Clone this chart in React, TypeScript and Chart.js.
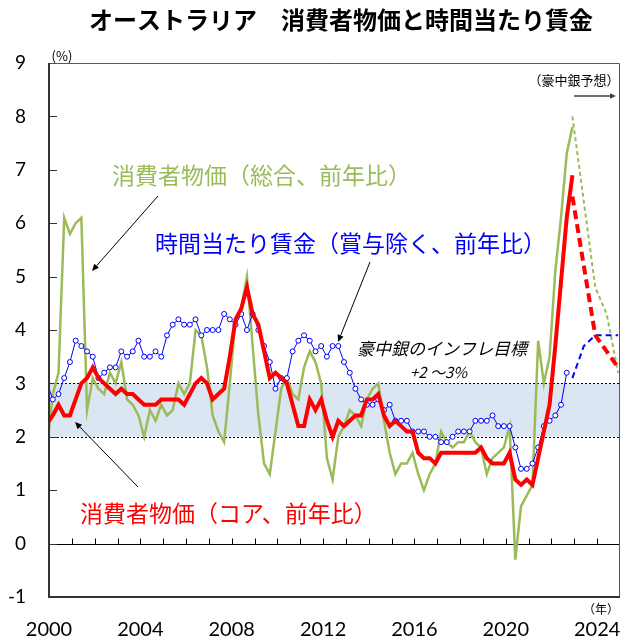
import { useEffect, useRef } from "react";
import { Chart, registerables } from "chart.js";
Chart.register(...registerables);

// Quarterly observations, first point = Dec 1999, then Mar/Jun/Sep/Dec each year
const firstQuarter = "1999-12";

// 消費者物価（総合、前年比）
const cpiHeadline = [
  1.8,
  2.8, 3.2, 6.1, 5.8,
  6.0, 6.1, 2.5, 3.1,
  2.9, 2.8, 3.2, 3.0,
  3.4, 2.7, 2.6, 2.4,
  2.0, 2.5, 2.3, 2.6,
  2.4, 2.5, 3.0, 2.8,
  3.0, 4.0, 3.9, 3.3,
  2.4, 2.1, 1.9, 3.0,
  4.2, 4.4, 5.0, 3.7,
  2.4, 1.5, 1.3, 2.1,
  2.9, 3.1, 2.8, 2.7,
  3.3, 3.6, 3.4, 3.0,
  1.6, 1.2, 2.0, 2.2,
  2.5, 2.4, 2.2, 2.7,
  2.9, 3.0, 2.3, 1.7,
  1.3, 1.5, 1.5, 1.7,
  1.3, 1.0, 1.3, 1.5,
  2.1, 1.9, 1.8, 1.9,
  1.9, 2.1, 1.9, 1.8,
  1.3, 1.6, 1.7, 1.8,
  2.2, -0.3, 0.7, 0.9,
  1.1, 3.8, 3.0, 3.5,
  5.1, 6.1, 7.3, 7.8,
];

// 消費者物価（コア、前年比）
const cpiCore = [
  2.25,
  2.4, 2.6, 2.4, 2.4,
  2.7, 3.0, 3.1, 3.3,
  3.1, 3.0, 2.9, 2.8,
  2.9, 2.8, 2.8, 2.7,
  2.6, 2.6, 2.6, 2.7,
  2.7, 2.7, 2.7, 2.6,
  2.8, 3.0, 3.1, 3.0,
  2.7, 2.8, 2.9, 3.5,
  4.2, 4.4, 4.8, 4.3,
  4.1, 3.6, 3.1, 3.2,
  3.1, 3.0, 2.6, 2.2,
  2.2, 2.7, 2.5, 2.7,
  2.3, 2.0, 2.3, 2.2,
  2.3, 2.4, 2.4, 2.7,
  2.7, 2.8, 2.4, 2.2,
  2.3, 2.2, 2.1, 2.1,
  1.7, 1.6, 1.6, 1.5,
  1.7, 1.7, 1.7, 1.7,
  1.7, 1.7, 1.7, 1.8,
  1.6, 1.5, 1.5, 1.5,
  1.7, 1.2, 1.1, 1.2,
  1.1, 1.6, 2.1, 2.6,
  3.7, 4.9, 6.1, 6.9,
];

// 時間当たり賃金（賞与除く、前年比）
const wages = [
  3.0,
  2.7, 2.8, 3.1, 3.4,
  3.8, 3.7, 3.6, 3.5,
  3.1, 3.2, 3.3, 3.3,
  3.6, 3.5, 3.6, 3.8,
  3.5, 3.5, 3.6, 3.5,
  3.9, 4.1, 4.2, 4.1,
  4.1, 4.2, 3.9, 4.0,
  4.0, 4.0, 4.3, 4.2,
  4.1, 4.3, 4.0, 4.3,
  4.0, 3.7, 3.4, 2.9,
  3.1, 3.1, 3.6, 3.8,
  3.9, 3.8, 3.6, 3.7,
  3.5, 3.7, 3.7, 3.4,
  3.2, 2.9, 2.7, 2.6,
  2.6, 2.7, 2.5, 2.6,
  2.3, 2.3, 2.3, 2.1,
  2.1, 2.1, 2.0, 2.0,
  1.9, 1.9, 2.0, 2.1,
  2.1, 2.1, 2.3, 2.3,
  2.3, 2.4, 2.2, 2.2,
  2.2, 1.8, 1.4, 1.4,
  1.5, 1.8, 2.2, 2.3,
  2.4, 2.6, 3.2,
];

// 豪中銀予想
const forecastDates = ["2022-12", "2023-06", "2023-12", "2024-06", "2024-12"];
const cpiHeadlineForecast = [8.0, 6.4, 4.8, 4.3, 3.2];
const cpiCoreForecast = [6.5, 5.2, 3.9, 3.6, 3.3];
const wagesForecast = [3.1, 3.7, 3.9, 3.9, 3.9];

const xTickYears = [2000, 2004, 2008, 2012, 2016, 2020, 2024];
const yTickValues = [-1, 0, 1, 2, 3, 4, 5, 6, 7, 8, 9];
const targetBand = [2, 3];

const GREEN = "#9BBB59";
const RED = "#FF0000";
const BLUE = "#0000FF";
const JP = '"Noto Sans CJK JP", "Noto Sans", sans-serif';
const NUM = 'Lato, "Liberation Sans", sans-serif';

function dateToX(d: string): number {
  const [y, m] = d.split("-").map(Number);
  return y + (m - 1) / 12;
}
function quarterDates(start: string, n: number): string[] {
  const [y0, m0] = start.split("-").map(Number);
  const out: string[] = [];
  for (let i = 0; i < n; i++) {
    const t = y0 * 12 + (m0 - 1) + 3 * i;
    out.push(`${Math.floor(t / 12)}-${(t % 12) + 1}`);
  }
  return out;
}
function toPoints(dates: string[], vals: number[]) {
  return vals.map((v, i) => ({ x: dateToX(dates[i]), y: v }));
}

function arrow(ctx: CanvasRenderingContext2D, x1: number, y1: number, x2: number, y2: number, color = "#000", w = 1, head = 7) {
  ctx.save();
  ctx.strokeStyle = color;
  ctx.fillStyle = color;
  ctx.lineWidth = w;
  const ang = Math.atan2(y2 - y1, x2 - x1);
  const bx = x2 - head * Math.cos(ang);
  const by = y2 - head * Math.sin(ang);
  ctx.beginPath();
  ctx.moveTo(x1, y1);
  ctx.lineTo(bx, by);
  ctx.stroke();
  ctx.beginPath();
  ctx.moveTo(x2, y2);
  ctx.lineTo(bx + (head * 0.45) * Math.sin(ang), by - (head * 0.45) * Math.cos(ang));
  ctx.lineTo(bx - (head * 0.45) * Math.sin(ang), by + (head * 0.45) * Math.cos(ang));
  ctx.closePath();
  ctx.fill();
  ctx.restore();
}

const decorPlugin = {
  id: "decor",
  beforeDatasetsDraw(chart: any) {
    const { ctx, chartArea: a, scales } = chart;
    const x = scales.x, y = scales.y;
    ctx.save();
    const yLo = y.getPixelForValue(targetBand[0]);
    const yHi = y.getPixelForValue(targetBand[1]);
    ctx.fillStyle = "#DCE6F2";
    ctx.fillRect(a.left, yHi, a.right - a.left, yLo - yHi);
    ctx.strokeStyle = "#000";
    ctx.lineWidth = 1;
    ctx.setLineDash([2, 2]);
    for (const v of targetBand) {
      const py = Math.round(y.getPixelForValue(v)) + 0.5;
      ctx.beginPath();
      ctx.moveTo(a.left, py);
      ctx.lineTo(a.right, py);
      ctx.stroke();
    }
    ctx.setLineDash([]);
    const y0 = Math.round(y.getPixelForValue(0)) + 0.5;
    ctx.strokeStyle = "#000";
    ctx.beginPath();
    ctx.moveTo(a.left, y0);
    ctx.lineTo(a.right, y0);
    ctx.stroke();
    // year ticks on zero line
    for (let yr = 2001; yr <= 2024; yr++) {
      const px = Math.round(x.getPixelForValue(yr)) + 0.5;
      ctx.beginPath();
      ctx.moveTo(px, y0);
      ctx.lineTo(px, y0 - 6);
      ctx.stroke();
    }
    // y ticks inside
    ctx.strokeStyle = "#333";
    for (const v of yTickValues) {
      const py = Math.round(y.getPixelForValue(v)) + 0.5;
      ctx.beginPath();
      ctx.moveTo(a.left, py);
      ctx.lineTo(a.left + 8, py);
      ctx.stroke();
    }
    ctx.restore();
  },
  afterDraw(chart: any) {
    const { ctx, chartArea: a } = chart;
    ctx.save();
    // frame
    ctx.strokeStyle = "#595959";
    ctx.lineWidth = 1;
    ctx.beginPath();
    ctx.moveTo(a.left, a.top + 0.5);
    ctx.lineTo(a.right - 0.5, a.top + 0.5);
    ctx.lineTo(a.right - 0.5, a.bottom);
    ctx.stroke();
    ctx.strokeStyle = "#333";
    ctx.lineWidth = 2;
    ctx.beginPath();
    ctx.moveTo(a.left, a.top);
    ctx.lineTo(a.left, a.bottom);
    ctx.lineTo(a.right, a.bottom);
    ctx.stroke();

    // title
    ctx.fillStyle = "#000";
    ctx.textBaseline = "middle";
    ctx.textAlign = "center";
    ctx.font = `bold 24px ${JP}`;
    ctx.fillText("オーストラリア　消費者物価と時間当たり賃金", 341, 20);

    ctx.font = `13px ${JP}`;
    ctx.fillText("(%)", 62, 56);
    ctx.font = `12px ${JP}`;
    ctx.fillText("（年）", 601, 609);
    ctx.font = `13px ${JP}`;
    ctx.fillText("（豪中銀予想）", 574, 80);
    arrow(ctx, 574, 96, 616, 96, "#404040", 1.5, 6);

    ctx.textAlign = "left";
    ctx.font = `23px ${JP}`;
    ctx.fillStyle = GREEN;
    ctx.fillText("消費者物価（総合、前年比）", 112, 175);
    ctx.fillStyle = BLUE;
    ctx.fillText("時間当たり賃金（賞与除く、前年比）", 155, 243);
    ctx.fillStyle = RED;
    ctx.fillText("消費者物価（コア、前年比）", 80, 513);

    ctx.fillStyle = "#000";
    ctx.font = `italic 17px ${JP}`;
    ctx.fillText("豪中銀のインフレ目標", 357, 349);
    ctx.font = `italic 15px ${JP}`;
    ctx.fillText("+2 〜3%", 410, 372);

    arrow(ctx, 158, 196, 92, 271);
    arrow(ctx, 370, 262, 338, 342);
    arrow(ctx, 138, 487, 75, 422);
    ctx.restore();
  },
};

export default function App() {
  const ref = useRef<HTMLCanvasElement | null>(null);
  useEffect(() => {
    if (!ref.current) return;
    const headDates = quarterDates(firstQuarter, cpiHeadline.length);
    const coreDates = quarterDates(firstQuarter, cpiCore.length);
    const wageDates = quarterDates(firstQuarter, wages.length);
    const chart = new Chart(ref.current, {
      type: "line",
      data: {
        datasets: [
          {
            label: "core",
            data: toPoints(coreDates, cpiCore),
            borderColor: RED,
            borderWidth: 4,
            pointRadius: 0,
            order: 1,
          },
          {
            label: "core forecast",
            data: toPoints(forecastDates, cpiCoreForecast),
            borderColor: RED,
            borderWidth: 4,
            borderDash: [9, 5],
            pointRadius: 0,
            order: 1,
          },
          {
            label: "wages",
            data: toPoints(wageDates, wages),
            borderColor: BLUE,
            borderWidth: 1,
            pointRadius: (c: any) => (c.raw && c.raw.x < 2000 ? 0 : 2.5),
            pointBackgroundColor: "#fff",
            pointBorderColor: BLUE,
            pointBorderWidth: 1,
            order: 2,
          },
          {
            label: "wages forecast",
            data: toPoints(forecastDates, wagesForecast),
            borderColor: BLUE,
            borderWidth: 2,
            borderDash: [6, 4],
            pointRadius: 0,
            order: 2,
          },
          {
            label: "headline",
            data: toPoints(headDates, cpiHeadline),
            borderColor: GREEN,
            borderWidth: 2.5,
            pointRadius: 0,
            order: 3,
          },
          {
            label: "headline forecast",
            data: toPoints(forecastDates, cpiHeadlineForecast),
            borderColor: GREEN,
            borderWidth: 2,
            borderDash: [4, 3],
            pointRadius: 0,
            order: 3,
          },
        ],
      },
      options: {
        responsive: false,
        animation: false,
        devicePixelRatio: 1,
        layout: { padding: { top: 63, right: 2, left: 0, bottom: 0 } },
        plugins: { legend: { display: false }, tooltip: { enabled: false } },
        scales: {
          x: {
            type: "linear",
            min: 2000,
            max: 2025,
            grid: { display: false, drawTicks: false },
            border: { display: false },
            afterBuildTicks: (s: any) => {
              s.ticks = xTickYears.map((v) => ({ value: v }));
            },
            afterFit: (s: any) => {
              s.height = 42;
              s.paddingLeft = 0;
              s.paddingRight = 0;
            },
            ticks: {
              autoSkip: false,
              maxRotation: 0,
              padding: 21,
              color: "#000",
              font: { family: NUM, size: 20 },
              callback: (v: any) => String(v),
            },
          },
          y: {
            min: -1,
            max: 9,
            grid: { display: false, drawTicks: false },
            border: { display: false },
            afterBuildTicks: (s: any) => {
              s.ticks = yTickValues.map((v) => ({ value: v }));
            },
            afterFit: (s: any) => {
              s.width = 49;
              s.paddingTop = 0;
              s.paddingBottom = 0;
            },
            ticks: {
              padding: 23,
              color: "#000",
              font: { family: NUM, size: 19 },
            },
          },
        },
      },
      plugins: [decorPlugin],
    });
    return () => chart.destroy();
  }, []);
  return (
    <div style={{ position: "fixed", left: 0, top: 0, width: 625, height: 639, background: "#fff" }}>
      <canvas ref={ref} width={625} height={639} style={{ display: "block" }} />
    </div>
  );
}
